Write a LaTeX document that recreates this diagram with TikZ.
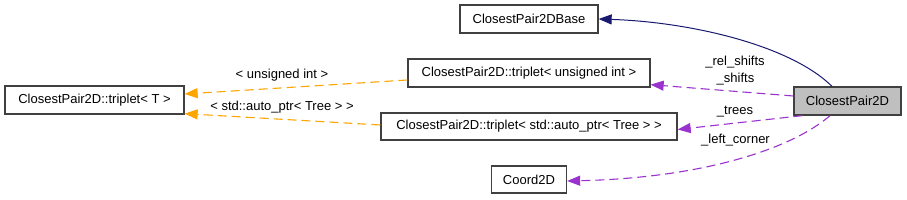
\documentclass[tikz,border=0pt]{standalone}
\usepackage{fontspec}
\setmainfont{Liberation Sans}
\usetikzlibrary{arrows.meta,calc}
\definecolor{navyedge}{HTML}{191970}
\definecolor{orchidedge}{HTML}{9A32CD}
\definecolor{orangeedge}{HTML}{FFA500}
\definecolor{boxline}{HTML}{404040}
\begin{document}
\begin{tikzpicture}[x=1pt, y=-1pt,
  every node/.style={font=\fontsize{13}{15}\selectfont, inner sep=0pt},
  box/.style={draw=boxline, line width=1.3pt, minimum height=28pt},
  inherit/.style={navyedge, line width=1pt, -{Triangle[length=13pt, width=10pt]}},
  member/.style={orchidedge, line width=1.1pt, dash pattern=on 9pt off 5pt, -{Triangle[length=13pt, width=10pt]}},
  tmpl/.style={orangeedge, line width=1.1pt, dash pattern=on 9pt off 5pt, -{Triangle[length=13pt, width=10pt]}}]
\useasboundingbox (0,0) rectangle (907,200);
\node[box, minimum width=138pt] (base) at (529,19) {ClosestPair2DBase};
\node[box, minimum width=179pt] (tT) at (94.5,100) {ClosestPair2D::triplet< T >};
\node[box, minimum width=242pt] (tUI) at (529,73) {ClosestPair2D::triplet< unsigned int >};
\node[box, minimum width=296pt, minimum height=27pt] (tAP) at (529,126.5) {ClosestPair2D::triplet< std::auto\_ptr< Tree > >};
\node[box, minimum width=75pt, minimum height=27pt] (coord) at (529,179.5) {Coord2D};
\node[box, fill=black!25, minimum width=107pt] (cp) at (847.5,101) {ClosestPair2D};
\draw[inherit] ([xshift=-15.5pt]cp.north) .. controls (790,45) and (690,22) .. (base.east);
\draw[member] ([yshift=5pt]cp.west) -- ([yshift=3pt]tUI.south east);
\draw[member] ([xshift=9pt]cp.south west) -- ([yshift=-3pt]tAP.east);
\draw[member] ([xshift=-17.5pt]cp.south) .. controls (790,150) and (700,178) .. ([yshift=-1.5pt]coord.east);
\draw[tmpl] ([yshift=-7pt]tUI.west) -- ([yshift=6pt]tT.east);
\draw[tmpl] ([yshift=1.5pt]tAP.west) -- ([yshift=1pt]tT.south east);
\node (lblRel) at (735,62) {\_rel\_shifts};
\node (lblShifts) at (735.5,79) {\_shifts};
\node (lblTrees) at (735,112) {\_trees};
\node (lblCorner) at (735.5,140) {\_left\_corner};
\node (lblUI) at (282,75.5) {< unsigned int >};
\node (lblAP) at (282,107) {< std::auto\_ptr< Tree > >};
\end{tikzpicture}
\end{document}
